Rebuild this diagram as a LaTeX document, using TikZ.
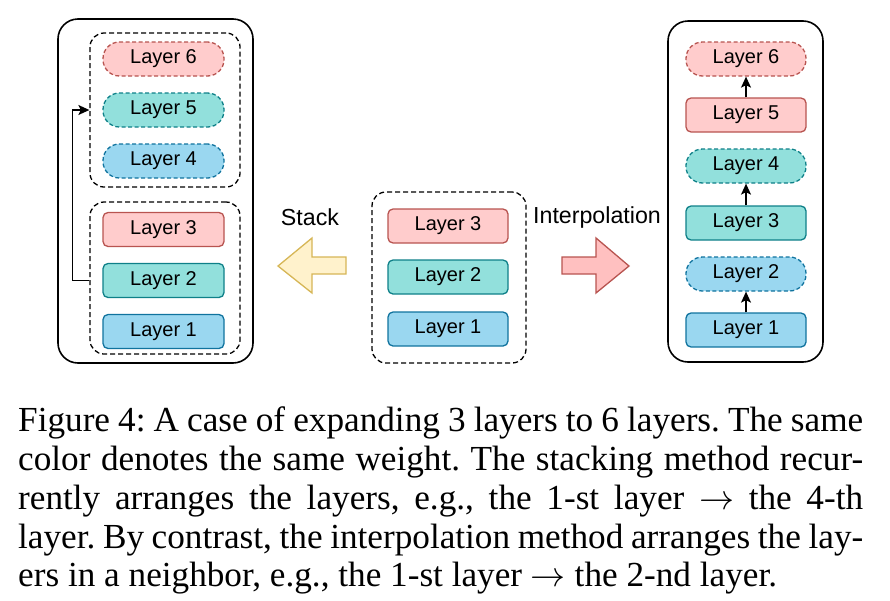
\documentclass[tikz,border=0pt]{standalone}
\usepackage{graphicx}
\usepackage{fontspec}
\setmainfont{Liberation Serif}
\newfontfamily\arialfont{Liberation Sans}
\usetikzlibrary{arrows.meta,calc}
\newcommand\caparrow{\scalebox{3.5}{\fontsize{10}{12}\selectfont$\rightarrow$}}
\definecolor{redfill}{HTML}{FFCCCC}
\definecolor{redline}{HTML}{B85450}
\definecolor{tealfill}{HTML}{92E0DC}
\definecolor{tealline}{HTML}{0E8088}
\definecolor{bluefill}{HTML}{9AD7F0}
\definecolor{blueline}{HTML}{10739E}
\definecolor{yelfill}{HTML}{FFF2CC}
\definecolor{yelline}{HTML}{D6B656}
\definecolor{arrfill}{HTML}{FFC0C0}
\tikzset{
  lay/.style={draw, line width=1.3pt, minimum width=120pt, minimum height=34pt, inner sep=0pt,
    font=\arialfont\fontsize{20}{22}\selectfont},
  solidlay/.style={lay, rounded corners=5pt},
  dashlay/.style={lay, rounded corners=16.5pt, dash pattern=on 4pt off 2.5pt},
  rl/.style={fill=redfill, draw=redline},
  tl/.style={fill=tealfill, draw=tealline},
  bl/.style={fill=bluefill, draw=blueline},
  grp/.style={draw, line width=1.3pt, dash pattern=on 5pt off 3pt, rounded corners=14pt, inner sep=0pt},
  outer/.style={draw, line width=1.6pt, rounded corners=20pt, inner sep=0pt},
  lbl/.style={font=\arialfont\fontsize{23.2}{26}\selectfont, inner sep=0pt},
  captext/.style={anchor=base west, inner sep=0pt, font=\fontsize{35.2}{38.8}\selectfont\frenchspacing},
  conn/.style={line width=1.4pt, -{Stealth[length=11pt,width=10pt,inset=2.5pt]}},
}
\begin{document}
\begin{tikzpicture}[x=1pt,y=-1pt]
\useasboundingbox (0,0) rectangle (890,600);
% left outer and groups
\node[outer, minimum width=195pt, minimum height=344pt] (lout) at (155.5,191) {};
\node[grp, minimum width=150pt, minimum height=154pt] (ltop) at (165,110) {};
\node[grp, minimum width=150pt, minimum height=152pt] (lbot) at (165,278) {};
\node[dashlay, rl, minimum width=121pt] (l6) at (163.5,59) {Layer 6};
\node[dashlay, tl, minimum width=121pt] (l5) at (163.5,110) {Layer 5};
\node[dashlay, bl, minimum width=121pt] (l4) at (163.5,161) {Layer 4};
\node[solidlay, rl, minimum width=121pt] (l3) at (163.5,229.5) {Layer 3};
\node[solidlay, tl, minimum width=121pt] (l2) at (163.5,280.5) {Layer 2};
\node[solidlay, bl, minimum width=121pt] (l1) at (163.5,331.5) {Layer 1};
\draw[conn, rounded corners=0pt] (lbot.west |- l2) -- ++(-17,0) |- (ltop.west |- l5);
% center
\node[grp, minimum width=154pt, minimum height=171pt] (cgrp) at (449,277.5) {};
\node[solidlay, rl] (c3) at (448,226) {Layer 3};
\node[solidlay, tl] (c2) at (448,277) {Layer 2};
\node[solidlay, bl] (c1) at (448,329) {Layer 1};
% labels
\node[lbl] (stack) at (310,217) {Stack};
\node[lbl] (interp) at (597,217) {Interpolation};
% block arrows
\draw[line width=1.3pt, draw=yelline, fill=yelfill, line join=miter]
  (278,266) -- (312,238) -- (312,257) -- (346,257) -- (346,274) -- (312,274) -- (312,293) -- cycle;
\draw[line width=1.3pt, draw=redline, fill=arrfill, line join=miter]
  (629,266) -- (596,238) -- (596,257) -- (562,257) -- (562,274) -- (596,274) -- (596,293) -- cycle;
% right
\node[outer, minimum width=155pt, minimum height=341pt] (rout) at (745.5,191.5) {};
\node[dashlay, rl] (r6) at (746,59) {Layer 6};
\node[solidlay, rl] (r5) at (746,115) {Layer 5};
\node[dashlay, tl] (r4) at (746,166) {Layer 4};
\node[solidlay, tl] (r3) at (746,223) {Layer 3};
\node[dashlay, bl] (r2) at (746,274) {Layer 2};
\node[solidlay, bl] (r1) at (746,330) {Layer 1};
\draw[conn] (r5) -- (r6);
\draw[conn] (r3) -- (r4);
\draw[conn] (r1) -- (r2);
% caption
\node[captext] (cap1) at (18,431.7) {\makebox[845pt][s]{Figure 4: A case of expanding 3 layers to 6 layers. The same}};
\node[captext] (cap2) at (18,470.3) {\makebox[845pt][s]{color denotes the same weight. The stacking method recur-}};
\node[captext] (cap3) at (18,509) {\makebox[845pt][s]{rently arranges the layers, e.g., the 1-st layer \caparrow{} the 4-th}};
\node[captext] (cap4) at (18,548) {\makebox[845pt][s]{layer. By contrast, the interpolation method arranges the lay-}};
\node[captext] (cap5) at (18,586.7) {ers in a neighbor, e.g., the 1-st layer \caparrow{} the 2-nd layer.};
\end{tikzpicture}
\end{document}
